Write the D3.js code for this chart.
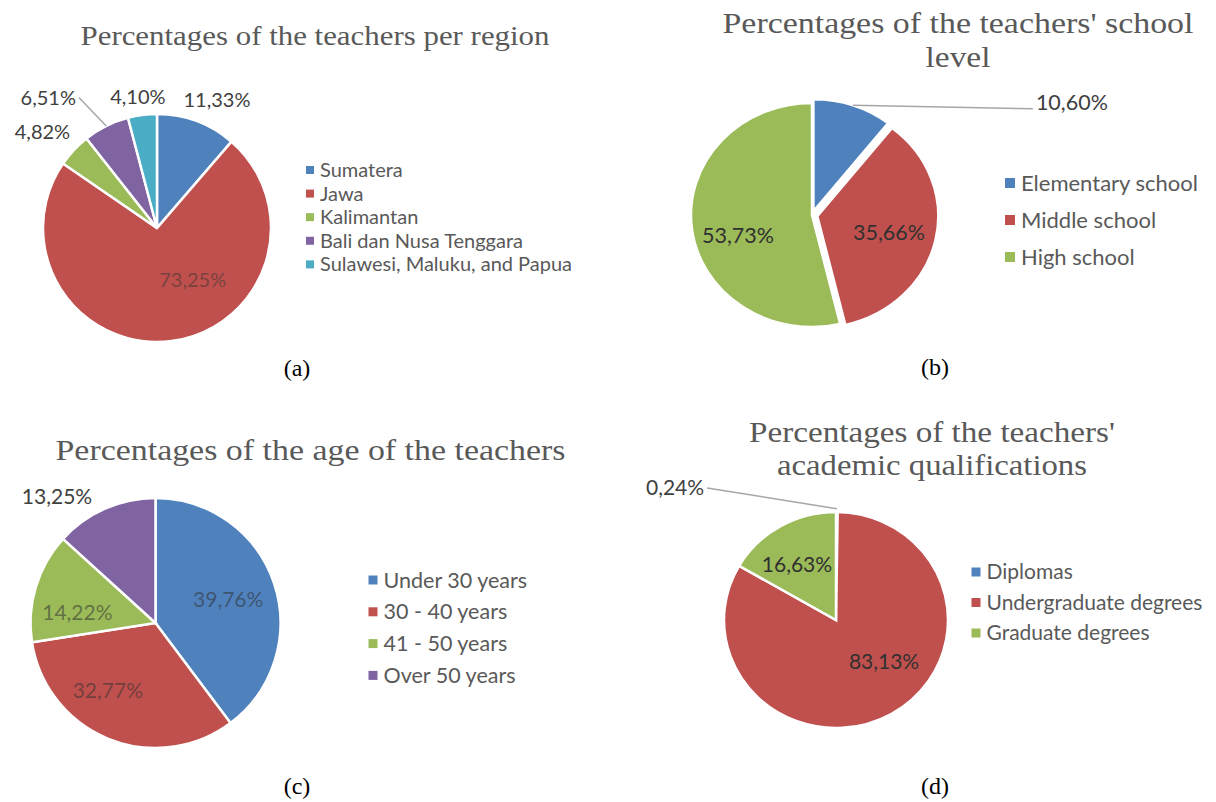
<!DOCTYPE html>
<html>
<head>
<meta charset="utf-8">
<script src="https://cdn.jsdelivr.net/npm/d3@7"></script>
<style>
body{margin:0;background:#fff;}
</style>
</head>
<body>
<svg id="chart" width="1216" height="802"></svg>
<script>
// data
var regionNames = ["Sumatera", "Jawa", "Kalimantan", "Bali dan Nusa Tenggara", "Sulawesi, Maluku, and Papua"];
var regionValues = [11.33, 73.25, 4.82, 6.51, 4.10];

var levelNames = ["Elementary school", "Middle school", "High school"];
var levelValues = [10.60, 35.66, 53.73];

var ageNames = ["Under 30 years", "30 - 40 years", "41 - 50 years", "Over 50 years"];
var ageValues = [39.76, 32.77, 14.22, 13.25];

var qualNames = ["Diplomas", "Undergraduate degrees", "Graduate degrees"];
var qualValues = [0.24, 83.13, 16.63];

var colors = ["#4f81bd", "#c0504d", "#9bbb59", "#8064a2", "#4bacc6"];

var comma = d3.formatLocale({decimal: ",", thousands: ".", grouping: [3], currency: ["", ""]});
var pct = function(v){ return comma.format(".2f")(v) + "%"; };

// layout of each panel (positions only, the values come from the arrays above)
// labels: k = radius factor, a = angle in degrees, lead = leader line, inner = drawn on the slice
var panels = [
  {names: regionNames, values: regionValues, cx: 157, cy: 228, rx: 114, ry: 114,
   title: ["Percentages of the teachers per region"], titleX: 315, titleY: [45], titleSize: 27, titleW: [469],
   legX: 310, legY: 170, legStep: 23.6, legSize: 20, legBox: 8,
   cap: "(a)", capX: 297, capY: 368, labelSize: 20, innerOpacity: 0.5,
   explode: [0, 0, 0, 0, 0],
   labels: [{k: 1.24, a: 25.1}, {k: 0.55, a: 145.3, inner: true}, {k: 1.31, a: -50.1}, {k: 1.49, a: -39.8, lead: true}, {k: 1.16, a: -8.3}]},
  {names: levelNames, values: levelValues, cx: 812, cy: 215, rx: 121, ry: 112,
   title: ["Percentages of the teachers' school", "level"], titleX: 958, titleY: [33, 67], titleSize: 30, titleW: [471, 65],
   legX: 1010, legY: 183, legStep: 37, legSize: 22, legBox: 10,
   cap: "(b)", capX: 935, capY: 367, labelSize: 21.5, innerOpacity: 1,
   explode: [4, 5, 0],
   labels: [{k: 2.37, a: 65, lead: true}, {k: 0.654, a: 103.4, inner: true}, {k: 0.637, a: 253.7, inner: true}]},
  {names: ageNames, values: ageValues, cx: 155.5, cy: 623, rx: 125, ry: 125,
   title: ["Percentages of the age of the teachers"], titleX: 310.5, titleY: [460], titleSize: 29, titleW: [510],
   legX: 373, legY: 580, legStep: 31.8, legSize: 21.5, legBox: 9,
   cap: "(c)", capX: 297, capY: 786, labelSize: 21, innerOpacity: 0.55,
   explode: [0, 0, 0, 0],
   labels: [{k: 0.61, a: 72.4, inner: true}, {k: 0.66, a: 215.3, inner: true}, {k: 0.63, a: 277.3, inner: true}, {k: 1.28, a: -38}]},
  {names: qualNames, values: qualValues, cx: 836, cy: 620, rx: 112, ry: 108,
   title: ["Percentages of the teachers'", "academic qualifications"], titleX: 932, titleY: [442, 475], titleSize: 29, titleW: [366, 310],
   legX: 976, legY: 572, legStep: 30.5, legSize: 21, legBox: 9,
   cap: "(d)", capX: 935, capY: 786, labelSize: 21, innerOpacity: 1,
   explode: [0, 0, 0],
   labels: [{k: 1.887, a: -49.6, lead: true, to: 1.03}, {k: 0.579, a: 132.2, inner: true}, {k: 0.617, a: -34.4, inner: true}]}
];

var svg = d3.select("#chart");
var pie = d3.pie().sort(null).value(function(d){ return d; });
var rad = Math.PI / 180;

panels.forEach(function(p){
  var g = svg.append("g").attr("class", "panel");
  var arc = d3.arc().innerRadius(0).outerRadius(p.ry);
  var arcs = pie(p.values);

  // title
  p.title.forEach(function(t, i){
    g.append("text")
      .attr("x", p.titleX).attr("y", p.titleY[i])
      .attr("text-anchor", "middle")
      .attr("textLength", p.titleW[i]).attr("lengthAdjust", "spacingAndGlyphs")
      .style("font-family", "'Liberation Serif', 'DejaVu Serif', serif")
      .style("font-size", p.titleSize + "px")
      .style("fill", "#595959")
      .text(t);
  });

  // slices (pies are a bit oval in the picture)
  var sg = g.append("g")
    .attr("transform", "translate(" + p.cx + "," + p.cy + ") scale(" + (p.rx / p.ry) + ",1)");
  sg.selectAll("path.slice")
    .data(arcs)
    .enter()
    .append("path")
    .attr("class", "slice")
    .attr("d", arc)
    .attr("transform", function(d, i){
      var m = (d.startAngle + d.endAngle) / 2, e = p.explode[i];
      return "translate(" + (e * Math.sin(m)) + "," + (-e * Math.cos(m)) + ")";
    })
    .attr("vector-effect", "non-scaling-stroke")
    .style("fill", function(d, i){ return colors[i]; })
    .style("stroke", "#fff")
    .style("stroke-width", 2.5);

  // value labels
  var lg0 = g.append("g").attr("transform", "translate(" + p.cx + "," + p.cy + ")");
  arcs.forEach(function(d, i){
    var L = p.labels[i];
    var m = (d.startAngle + d.endAngle) / 2;
    var a = L.a * rad;
    var x = L.k * p.rx * Math.sin(a), y = -L.k * p.ry * Math.cos(a);
    var t = lg0.append("text")
      .attr("x", x).attr("y", y)
      .attr("text-anchor", "middle")
      .attr("dy", "0.35em")
      .style("font-family", "Lato, 'Open Sans', sans-serif")
      .style("font-size", p.labelSize + "px")
      .style("fill", L.inner ? "#303030" : "#404040")
      .style("fill-opacity", L.inner ? p.innerOpacity : 1)
      .text(pct(p.values[i]));
    if (L.lead) {
      var w = t.node().getComputedTextLength() / 2 + 3;
      var sx = x < 0 ? x + w : x - w;
      var f = L.to || 1, e = p.explode[i];
      var ex = (f * p.rx + e) * Math.sin(m), ey = -(f * p.ry + e) * Math.cos(m);
      lg0.insert("line", "text")
        .attr("x1", sx).attr("y1", y + (x < 0 ? 0 : 6))
        .attr("x2", ex).attr("y2", ey)
        .style("stroke", "#a6a6a6")
        .style("stroke-width", 1.5);
    }
  });

  // legend
  var lg = g.selectAll("g.leg")
    .data(p.names)
    .enter()
    .append("g")
    .attr("class", "leg")
    .attr("transform", function(d, i){ return "translate(" + p.legX + "," + (p.legY + i * p.legStep) + ")"; });
  lg.append("rect")
    .attr("x", -p.legBox / 2).attr("y", -p.legBox / 2)
    .attr("width", p.legBox).attr("height", p.legBox)
    .style("fill", function(d, i){ return colors[i]; });
  lg.append("text")
    .attr("x", p.legBox / 2 + 6).attr("dy", "0.35em")
    .style("font-family", "Lato, 'Open Sans', sans-serif")
    .style("font-size", p.legSize + "px")
    .style("fill", "#595959")
    .text(function(d){ return d; });

  // caption
  g.append("text")
    .attr("x", p.capX).attr("y", p.capY)
    .attr("text-anchor", "middle").attr("dy", "0.35em")
    .style("font-family", "'Liberation Serif', serif")
    .style("font-size", "24px")
    .style("fill", "#000")
    .text(p.cap);
});
</script>
</body>
</html>
